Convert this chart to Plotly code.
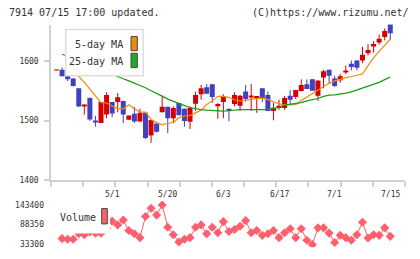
import plotly.graph_objects as go

# ---------------- data ----------------
days = list(range(61))
date_pos = [10, 20, 30, 40, 50, 60]
date_labels = ["5/1", "5/20", "6/3", "6/17", "7/1", "7/15"]

opens = [1584, 1585, 1578, 1570.5, 1554, 1523.5, 1538, 1500, 1496, 1510.4,
         1531, 1531, 1533, 1501.6, 1511.5, 1498.4, 1513, 1475, 1495, 1514,
         1523, 1504, 1529.5, 1520, 1498, 1528.4, 1544, 1556, 1560.7, 1524,
         1531, 1520, 1528, 1525, 1548.6, 1540, 1536, 1554, 1543, 1516,
         1521, 1521, 1541.5, 1539.3, 1549.7, 1560.7, 1569, 1541.5, 1572, 1585,
         1570.5, 1567.3, 1582, 1595, 1600.5, 1600.5, 1612.6, 1625, 1630.6, 1640,
         1661]
highs = [1585, 1589, 1584, 1571, 1554, 1527, 1539, 1508, 1531, 1547.5,
         1531, 1546, 1533, 1508.5, 1523, 1520, 1513, 1501, 1495, 1541,
         1523, 1524, 1530, 1520, 1524, 1548.6, 1559.6, 1561, 1561, 1529.5,
         1544, 1520, 1547.5, 1543, 1559.6, 1561, 1541, 1554, 1548.6, 1530,
         1535, 1541.5, 1551, 1551.4, 1569, 1569, 1569, 1567, 1585, 1585,
         1575, 1578, 1592, 1600.5, 1600.5, 1623.5, 1628, 1633, 1644, 1654,
         1662]
lows = [1584, 1574, 1566, 1557, 1523, 1510, 1499.5, 1490, 1496, 1504,
        1505.5, 1514, 1496, 1501, 1496, 1498, 1469.5, 1463, 1480, 1514,
        1479, 1496, 1509, 1490, 1486, 1516, 1535, 1545, 1529.5, 1503,
        1504, 1499, 1524, 1516, 1532, 1516, 1513, 1531, 1516, 1500.5,
        1518, 1518, 1527, 1536, 1549, 1553, 1550, 1533, 1554, 1561,
        1556, 1563, 1578, 1584, 1584, 1596, 1609, 1614, 1627, 1634,
        1635]
closes = [1585, 1574, 1569, 1558, 1523.5, 1527, 1502, 1497, 1531, 1543,
          1512, 1539, 1510.4, 1508.5, 1498.4, 1513, 1471, 1501, 1481.4, 1523,
          1504, 1521, 1509, 1499.5, 1521, 1543, 1554, 1545, 1539.3, 1528,
          1540, 1516, 1543, 1541.5, 1536, 1542, 1541, 1536, 1516, 1521.7,
          1525, 1538, 1535, 1551.4, 1559.6, 1553, 1550, 1567, 1582.5, 1575,
          1558, 1574, 1584, 1589.6, 1588.5, 1610, 1618, 1628, 1637, 1650,
          1646]

ma5 = [None, None, None, 1581, 1573.8, 1564, 1552.5, 1541, 1530, 1529.5,
       1524, 1519.7, 1519.7, 1526.7, 1519.7, 1514.2, 1514.2, 1502, 1496.7, 1493,
       1495.6, 1496.7, 1505, 1507.7, 1508.5, 1513, 1517.5, 1527, 1533, 1540.5,
       1540.5, 1539, 1534.4, 1532.8, 1533.6, 1536, 1537, 1537.7, 1535, 1531,
       1527.9, 1526.2, 1526.2, 1526.7, 1533.6, 1539.3, 1545.9, 1550.8, 1556.6, 1562.3,
       1566.4, 1569.7, 1572, 1573.8, 1575.4, 1577.9, 1591.8, 1605, 1615.6, 1625.4,
       1636]
ma25 = [None, 1611, 1608, 1605, 1601, 1597, 1593, 1589, 1585, 1581,
        1577, 1573.5, 1570, 1566.5, 1563, 1559, 1555, 1550, 1546, 1541,
        1536, 1532, 1528, 1525, 1522, 1520, 1518.5, 1517.5, 1517, 1516,
        1516, 1516.5, 1518, 1518.5, 1518.5, 1518.5, 1519, 1518.5, 1518.5, 1520,
        1522, 1526, 1527, 1528, 1530, 1533, 1535, 1537, 1540.5, 1542.5,
        1543, 1544, 1546, 1548, 1551, 1554, 1557, 1560.5, 1564, 1568.5,
        1573]

volume = [None, 49000, 47000, 47000, 63000, 60000, 68000, 64000, 64000, 78000,
          98000, 87500, 101300, 71800, 62700, 51700, 111200, 134300, 115000, 143400,
          81000, 60000, 39600, 47000, 51700, 81000, 87500, 62700, 81000, 65500,
          96600, 69100, 74600, 83700, 99400, 65500, 71800, 58100, 62700, 71800,
          51700, 65500, 76500, 51700, 76500, 44300, 32500, 79200, 79200, 64400,
          38000, 58100, 51700, 44300, 60000, 94700, 50600, 60000, 58100, 79200,
          55300]

price_ticks = [1400, 1500, 1600]
vol_ticks = [33300, 88350, 143400]
vol_tick_labels = ["33300", "88350", "143400"]

# ---------------- style ----------------
W, H = 420, 259
RED = "#d40000"
BLUE = "#4040c0"
ORANGE = "#f08a10"
GREEN = "#10a010"
VOLC = "#ff5f6d"
AXC = "#d0d0d0"
TXT = "#333333"
FONT = "DejaVu Sans Mono"

def px(x):
    return x / W

def py(y):
    return (H - y) / H

x_left_px, x_right_px = 51, 405
x0_idx, slope = 56.5, 5.563
xr = [(x_left_px - x0_idx) / slope, (x_right_px - x0_idx) / slope]
tick_marks = [xr[0] + k * (xr[1] - xr[0]) / 11 for k in range(12)]

fig = go.Figure()

# wicks
for up, col in [(True, RED), (False, BLUE)]:
    wx, wy = [], []
    bx, bb, bh = [], [], []
    for i in days:
        o, h, l, c = opens[i], highs[i], lows[i], closes[i]
        if (c >= o) != up:
            continue
        wx += [i, i, None]
        wy += [l, h, None]
        bx.append(i)
        bb.append(min(o, c))
        bh.append(max(abs(c - o), 1.4))
    fig.add_trace(go.Scatter(x=wx, y=wy, mode="lines", line=dict(color=col, width=1),
                             hoverinfo="skip", showlegend=False, xaxis="x", yaxis="y"))
    fig.add_trace(go.Bar(x=bx, y=bh, base=bb, width=0.9, marker=dict(color=col, line=dict(width=0)),
                         showlegend=False, xaxis="x", yaxis="y"))

fig.add_trace(go.Scatter(x=days, y=ma5, mode="lines", line=dict(color=ORANGE, width=1.2),
                         showlegend=False, xaxis="x", yaxis="y", connectgaps=False))
fig.add_trace(go.Scatter(x=days, y=ma25, mode="lines", line=dict(color=GREEN, width=1.2),
                         showlegend=False, xaxis="x", yaxis="y"))

fig.add_trace(go.Scatter(x=days, y=volume, mode="lines+markers",
                         line=dict(color=VOLC, width=1),
                         marker=dict(symbol="diamond", size=7, color=VOLC),
                         showlegend=False, xaxis="x2", yaxis="y2"))

shapes = [
    # main legend box
    dict(type="rect", xref="paper", yref="paper", x0=px(65.7), x1=px(143.3), y0=py(77.3), y1=py(30),
         fillcolor="white", line=dict(color="#dddddd", width=1.5), layer="above"),
    dict(type="rect", xref="paper", yref="paper", x0=px(131), x1=px(137.3), y0=py(51.7), y1=py(37.3),
         fillcolor=ORANGE, line=dict(color="#444444", width=1), layer="above"),
    dict(type="rect", xref="paper", yref="paper", x0=px(131), x1=px(137.3), y0=py(69), y1=py(54.3),
         fillcolor="#22aa22", line=dict(color="#444444", width=1), layer="above"),
    # volume legend
    dict(type="rect", xref="paper", yref="paper", x0=px(55), x1=px(110), y0=py(238), y1=py(205),
         fillcolor="white", line=dict(width=0), layer="above"),
    dict(type="rect", xref="paper", yref="paper", x0=px(101.7), x1=px(107.3), y0=py(228.3), y1=py(212.7),
         fillcolor=VOLC, line=dict(color="#444444", width=1), layer="above"),
]

annotations = [
    dict(text="7914 07/15 17:00 updated.", xref="paper", yref="paper", x=px(7), y=py(13),
         xanchor="left", yanchor="middle", showarrow=False, font=dict(family=FONT, size=10, color=TXT)),
    dict(text="(C)https://www.rizumu.net/", xref="paper", yref="paper", x=px(411), y=py(13),
         xanchor="right", yanchor="middle", showarrow=False, font=dict(family=FONT, size=10, color=TXT)),
    dict(text="5-day MA", xref="paper", yref="paper", x=px(125), y=py(45.5),
         xanchor="right", yanchor="middle", showarrow=False, font=dict(family=FONT, size=10, color=TXT)),
    dict(text="25-day MA", xref="paper", yref="paper", x=px(125), y=py(62.5),
         xanchor="right", yanchor="middle", showarrow=False, font=dict(family=FONT, size=10, color=TXT)),
    dict(text="Volume", xref="paper", yref="paper", x=px(57.5), y=py(222),
         xanchor="left", yanchor="middle", showarrow=False, font=dict(family=FONT, size=10, color=TXT)),
]
for pos, lab in zip(date_pos, date_labels):
    annotations.append(dict(text=lab, xref="x", yref="paper", x=pos, y=py(198.5),
                            xanchor="center", yanchor="middle", showarrow=False,
                            font=dict(family=FONT, size=8, color=TXT)))

fig.update_layout(
    width=W, height=H, margin=dict(l=0, r=0, t=0, b=0),
    paper_bgcolor="white", plot_bgcolor="white",
    barmode="overlay", showlegend=False,
    font=dict(family=FONT, size=8, color=TXT),
    xaxis=dict(domain=[px(x_left_px), px(x_right_px)], range=xr, anchor="y",
               showline=True, linecolor=AXC, linewidth=1.5, showgrid=False, zeroline=False,
               ticks="outside", ticklen=5, tickcolor=AXC, tickwidth=1.5,
               tickmode="array", tickvals=tick_marks, showticklabels=False, fixedrange=True),
    yaxis=dict(domain=[py(184), py(25)], range=[1400, 1400 + (184 - 25) / 0.61], anchor="x",
               showline=True, linecolor=AXC, linewidth=1.5, showgrid=False, zeroline=False,
               ticks="outside", ticklen=5, tickcolor=AXC, tickwidth=1.5,
               tickmode="array", tickvals=price_ticks, ticklabelstandoff=4,
               tickfont=dict(family=FONT, size=8, color=TXT)),
    xaxis2=dict(domain=[px(x_left_px), px(x_right_px)], range=xr, anchor="y2", visible=False),
    yaxis2=dict(domain=[py(252), py(205)], range=[33300 - 3 * 2752.5, 33300 + 44 * 2752.5], anchor="x2",
                showline=False, showgrid=False, zeroline=False, ticks="",
                tickmode="array", tickvals=vol_ticks, ticktext=vol_tick_labels, ticklabelstandoff=6,
                tickfont=dict(family=FONT, size=8, color=TXT)),
    shapes=shapes, annotations=annotations,
)

fig.write_html("out.html")
